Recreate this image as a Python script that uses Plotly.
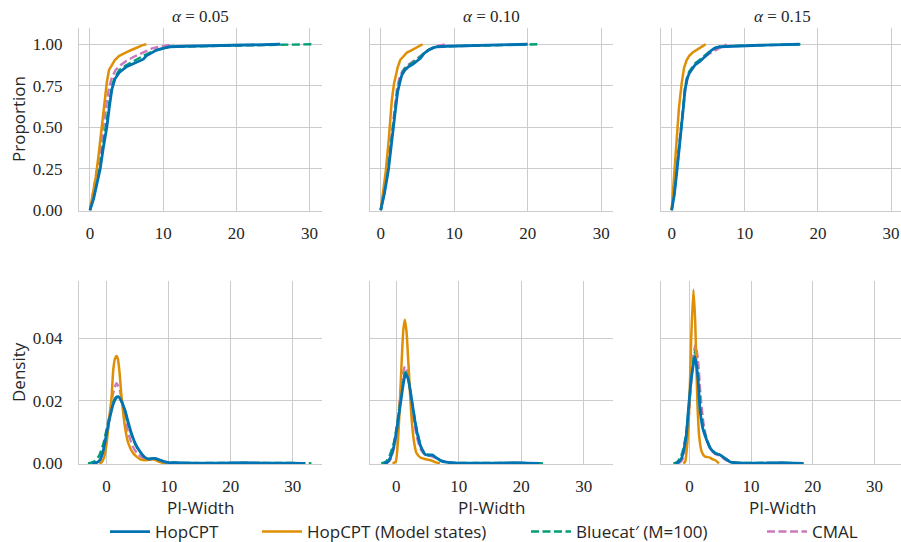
import plotly.graph_objects as go

# ---------------- data ----------------
alphas = ["0.05", "0.10", "0.15"]
series_names = ["HopCPT", "HopCPT (Model states)", "Bluecat\u2032 (M=100)", "CMAL"]

# ECDF (Proportion vs PI-Width)
ecdf_hop_x_005 = [0, 0.5, 1.0, 1.4, 1.8, 2.3, 2.7, 3.0, 3.4, 4.0, 5.0, 6.0, 6.8, 7.3, 7.7, 8.5, 9.1, 10.0, 10.9, 13, 16, 20, 23, 26]
ecdf_hop_y_005 = [0, 0.07, 0.17, 0.25, 0.37, 0.50, 0.64, 0.73, 0.79, 0.83, 0.865, 0.885, 0.90, 0.91, 0.93, 0.95, 0.965, 0.975, 0.985, 0.988, 0.99, 0.993, 0.996, 1.0]
ecdf_ms_x_005 = [0, 0.4, 0.8, 1.2, 1.6, 2.0, 2.3, 2.6, 3.0, 3.4, 4.0, 4.6, 5.3, 5.9, 6.6, 7.2, 7.7]
ecdf_ms_y_005 = [0, 0.09, 0.20, 0.34, 0.50, 0.66, 0.77, 0.845, 0.88, 0.905, 0.93, 0.945, 0.958, 0.97, 0.985, 0.995, 1.0]
ecdf_bc_x_005 = [0, 0.5, 1.0, 1.4, 1.8, 2.3, 2.7, 3.0, 3.4, 4.0, 5.0, 6.0, 6.8, 7.5, 8.5, 9.5, 11, 14, 18, 22, 26, 28, 30.3]
ecdf_bc_y_005 = [0, 0.08, 0.18, 0.27, 0.40, 0.54, 0.67, 0.75, 0.80, 0.845, 0.875, 0.90, 0.92, 0.935, 0.955, 0.97, 0.985, 0.988, 0.99, 0.994, 0.997, 0.999, 1.0]
ecdf_cm_x_005 = [0, 0.4, 0.9, 1.3, 1.7, 2.2, 2.6, 3.0, 3.5, 4.2, 5.0, 6.0, 7.0, 7.7, 8.5, 9.5, 10.5, 11.4]
ecdf_cm_y_005 = [0, 0.10, 0.22, 0.33, 0.47, 0.62, 0.74, 0.80, 0.845, 0.875, 0.90, 0.925, 0.945, 0.96, 0.975, 0.985, 0.993, 1.0]

ecdf_hop_x_010 = [0, 0.5, 1.04, 1.4, 1.73, 2.0, 2.28, 2.6, 2.87, 3.3, 3.78, 4.4, 4.9, 5.4, 5.9, 6.5, 7.1, 7.7, 9, 12, 15, 18, 20]
ecdf_hop_y_010 = [0, 0.10, 0.24, 0.37, 0.50, 0.61, 0.71, 0.77, 0.815, 0.845, 0.865, 0.88, 0.895, 0.915, 0.945, 0.965, 0.978, 0.985, 0.988, 0.991, 0.994, 0.997, 1.0]
ecdf_ms_x_010 = [0, 0.3, 0.7, 1.1, 1.5, 1.8, 2.0, 2.3, 2.64, 3.0, 3.56, 4.1, 4.7, 5.2, 5.7]
ecdf_ms_y_010 = [0, 0.09, 0.24, 0.43, 0.66, 0.76, 0.80, 0.86, 0.905, 0.925, 0.95, 0.962, 0.975, 0.99, 1.0]
ecdf_bc_x_010 = [0, 0.5, 1.0, 1.4, 1.7, 2.0, 2.3, 2.6, 2.9, 3.3, 3.8, 4.4, 4.9, 5.4, 6.0, 6.6, 7.2, 8, 10, 13, 16, 19, 21.3]
ecdf_bc_y_010 = [0, 0.11, 0.25, 0.38, 0.51, 0.62, 0.72, 0.78, 0.825, 0.855, 0.875, 0.89, 0.905, 0.925, 0.95, 0.968, 0.98, 0.986, 0.989, 0.992, 0.995, 0.998, 1.0]
ecdf_cm_x_010 = [0, 0.4, 0.9, 1.3, 1.6, 1.9, 2.2, 2.5, 2.9, 3.4, 4.0, 4.7, 5.4, 6.2, 7.0, 7.8, 8.8]
ecdf_cm_y_010 = [0, 0.10, 0.24, 0.38, 0.51, 0.63, 0.73, 0.79, 0.835, 0.865, 0.885, 0.905, 0.93, 0.955, 0.975, 0.99, 1.0]

ecdf_hop_x_015 = [0, 0.35, 0.68, 1.0, 1.37, 1.6, 1.82, 2.1, 2.4, 2.8, 3.19, 3.8, 4.33, 4.9, 5.47, 6.0, 6.6, 8, 10, 12, 14, 16, 17.5]
ecdf_hop_y_015 = [0, 0.09, 0.22, 0.35, 0.50, 0.62, 0.725, 0.79, 0.825, 0.85, 0.875, 0.895, 0.915, 0.94, 0.965, 0.978, 0.985, 0.988, 0.991, 0.994, 0.996, 0.998, 1.0]
ecdf_ms_x_015 = [0, 0.3, 0.68, 1.0, 1.37, 1.7, 2.05, 2.4, 2.87, 3.4, 3.87, 4.3, 4.65]
ecdf_ms_y_015 = [0, 0.18, 0.46, 0.62, 0.765, 0.86, 0.905, 0.93, 0.95, 0.963, 0.975, 0.99, 1.0]
ecdf_bc_x_015 = [0, 0.35, 0.68, 1.0, 1.37, 1.6, 1.82, 2.1, 2.4, 2.8, 3.2, 3.8, 4.3, 4.9, 5.5, 6.0, 6.6, 8, 10, 12, 14, 16, 17.6]
ecdf_bc_y_015 = [0, 0.10, 0.23, 0.36, 0.51, 0.63, 0.735, 0.80, 0.835, 0.86, 0.885, 0.905, 0.925, 0.948, 0.968, 0.98, 0.986, 0.989, 0.992, 0.994, 0.996, 0.998, 1.0]
ecdf_cm_x_015 = [0, 0.3, 0.65, 1.0, 1.3, 1.6, 1.9, 2.2, 2.6, 3.1, 3.7, 4.4, 5.2, 6.0, 6.8, 7.5]
ecdf_cm_y_015 = [0, 0.10, 0.24, 0.38, 0.51, 0.64, 0.74, 0.80, 0.84, 0.87, 0.895, 0.92, 0.945, 0.965, 0.985, 1.0]

# KDE (Density vs PI-Width)
kde_hop_x_005 = [-2.4, -1.6, -1.1, -0.5, 0, 0.5, 1.07, 1.5, 1.88, 2.4, 2.95, 3.5, 4.0, 4.7, 5.4, 6.0, 6.7, 7.3, 7.8, 8.5, 9.7, 11, 14, 18, 22, 26, 30, 32]
kde_hop_y_005 = [0, 0.0003, 0.001, 0.0045, 0.0096, 0.0145, 0.019, 0.0208, 0.0213, 0.0198, 0.017, 0.013, 0.0096, 0.006, 0.0037, 0.0022, 0.0014, 0.0015, 0.0016, 0.0011, 0.0003, 0.0002, 0.0001, 0.0001, 0.0002, 0.0001, 0.0001, 0]
kde_ms_x_005 = [-1.2, -0.8, -0.4, 0, 0.4, 0.8, 1.07, 1.35, 1.6, 1.8, 2.04, 2.4, 2.95, 3.5, 4.3, 5.4, 6.4, 7.5, 8.6, 9.4]
kde_ms_y_005 = [0, 0.0003, 0.002, 0.0064, 0.014, 0.0213, 0.0299, 0.0335, 0.0343, 0.0335, 0.030, 0.0213, 0.0117, 0.0064, 0.0032, 0.0013, 0.001, 0.0013, 0.0004, 0]
kde_bc_x_005 = [-3, -2, -1.2, -0.5, 0, 0.5, 1.0, 1.5, 1.9, 2.4, 3.0, 3.5, 4.0, 4.7, 5.4, 6.0, 6.7, 7.3, 7.8, 8.5, 9.7, 11, 14, 18, 22, 26, 30, 33]
kde_bc_y_005 = [0, 0.0006, 0.0025, 0.0065, 0.011, 0.0155, 0.0195, 0.0212, 0.0215, 0.0198, 0.0165, 0.0125, 0.0092, 0.0058, 0.0036, 0.0022, 0.0015, 0.0015, 0.0015, 0.001, 0.0003, 0.0002, 0.0001, 0.0001, 0.0001, 0.0001, 0.0001, 0]
kde_cm_x_005 = [-1.8, -1.0, -0.5, 0, 0.5, 1.0, 1.6, 2.1, 2.6, 3.1, 3.6, 4.2, 5.0, 5.8, 6.6, 7.4, 8.2, 9.0, 10, 11, 12]
kde_cm_y_005 = [0, 0.001, 0.0035, 0.0085, 0.015, 0.022, 0.0256, 0.0235, 0.0185, 0.013, 0.0090, 0.0055, 0.003, 0.0018, 0.0014, 0.0015, 0.0012, 0.0006, 0.0004, 0.0002, 0]

kde_hop_x_010 = [-2.0, -1.44, -0.9, -0.4, 0.1, 0.69, 1.1, 1.49, 1.9, 2.56, 3.0, 3.36, 4.0, 4.7, 5.2, 5.76, 6.4, 7.2, 8.0, 8.8, 10, 13, 16, 19, 21, 23]
kde_hop_y_010 = [0, 0.0003, 0.002, 0.0053, 0.011, 0.0192, 0.025, 0.0286, 0.027, 0.0192, 0.0135, 0.0096, 0.005, 0.0028, 0.0026, 0.0027, 0.0018, 0.0008, 0.0004, 0.0002, 0.0001, 0.0001, 0.0001, 0.0002, 0.0001, 0]
kde_ms_x_010 = [-0.6, -0.1, 0.3, 0.58, 0.9, 1.15, 1.38, 1.65, 2.0, 2.3, 2.6, 2.8, 3.2, 3.9, 4.6, 5.5, 6.2, 7.0]
kde_ms_y_010 = [0, 0.0005, 0.008, 0.0192, 0.034, 0.043, 0.0459, 0.042, 0.030, 0.0192, 0.011, 0.0075, 0.0035, 0.0018, 0.0014, 0.001, 0.0004, 0]
kde_bc_x_010 = [-2.4, -1.6, -1.0, -0.4, 0.1, 0.6, 1.0, 1.45, 1.9, 2.5, 3.0, 3.4, 4.0, 4.6, 5.2, 5.8, 6.4, 7.2, 8.0, 9.0, 11, 14, 17, 20, 23.5]
kde_bc_y_010 = [0, 0.0006, 0.0028, 0.0065, 0.012, 0.0195, 0.025, 0.0292, 0.0275, 0.0198, 0.0138, 0.0098, 0.0052, 0.0032, 0.0028, 0.0026, 0.0018, 0.0008, 0.0004, 0.0002, 0.0001, 0.0001, 0.0001, 0.0001, 0]
kde_cm_x_010 = [-1.6, -1.0, -0.4, 0.1, 0.6, 1.0, 1.4, 1.8, 2.3, 2.8, 3.3, 3.9, 4.6, 5.4, 6.2, 7.0, 8.0, 9.5]
kde_cm_y_010 = [0, 0.001, 0.0045, 0.011, 0.021, 0.028, 0.031, 0.029, 0.0215, 0.014, 0.0085, 0.0045, 0.0028, 0.0024, 0.0018, 0.001, 0.0004, 0]

kde_hop_x_015 = [-2.3, -1.8, -1.3, -0.97, -0.5, -0.16, 0.3, 0.92, 1.4, 1.73, 2.2, 2.8, 3.4, 4.2, 5.0, 5.8, 6.7, 7.5, 9, 12, 15, 17, 18.5]
kde_hop_y_015 = [0, 0.0003, 0.0015, 0.0037, 0.009, 0.017, 0.027, 0.0341, 0.027, 0.017, 0.011, 0.0075, 0.0048, 0.0032, 0.0027, 0.0015, 0.0004, 0.0002, 0.0001, 0.0001, 0.0002, 0.0001, 0]
kde_ms_x_015 = [-1.0, -0.7, -0.35, 0, 0.3, 0.65, 0.95, 1.3, 1.6, 2.0, 2.5, 3.0, 3.35, 3.8, 4.2, 4.8]
kde_ms_y_015 = [0, 0.0005, 0.006, 0.0192, 0.040, 0.0555, 0.045, 0.0192, 0.0085, 0.0037, 0.0022, 0.002, 0.0018, 0.0013, 0.001, 0]
kde_bc_x_015 = [-2.6, -2.0, -1.4, -1.0, -0.5, -0.1, 0.4, 0.9, 1.4, 1.8, 2.3, 2.8, 3.4, 4.2, 5.0, 5.8, 6.7, 7.5, 9, 12, 15, 18.5]
kde_bc_y_015 = [0, 0.0004, 0.002, 0.0045, 0.010, 0.018, 0.029, 0.0357, 0.028, 0.0175, 0.0112, 0.0078, 0.005, 0.0033, 0.0027, 0.0016, 0.0005, 0.0002, 0.0001, 0.0002, 0.0001, 0]
kde_cm_x_015 = [-1.8, -1.2, -0.6, -0.2, 0.3, 0.7, 1.0, 1.4, 1.8, 2.3, 2.8, 3.4, 4.2, 5.0, 5.8, 6.7, 8.0]
kde_cm_y_015 = [0, 0.001, 0.005, 0.012, 0.026, 0.035, 0.0379, 0.033, 0.022, 0.0125, 0.0078, 0.0048, 0.003, 0.0024, 0.0012, 0.0005, 0]

x_ticks = [0, 10, 20, 30]
ecdf_y_ticks = [0, 0.25, 0.5, 0.75, 1.0]
kde_y_ticks = [0, 0.02, 0.04]

# ---------------- styling ----------------
W, H = 901, 550          # the page is captured 550 px tall and shown at 542
REF_H = 542
COLORS = ["#0173b2", "#de8f05", "#029e73", "#cc78bc"]
DASHES = ["solid", "solid", "8px,3.5px", "8px,3.5px"]
WIDTHS = [2.8, 2.5, 2.4, 2.4]
GRID = "#cccccc"
TXT = "#262626"
SERIF = "'Liberation Serif', 'DejaVu Serif', serif"
SANS = "'Open Sans', sans-serif"

ecdf = [
    [(ecdf_hop_x_005, ecdf_hop_y_005), (ecdf_ms_x_005, ecdf_ms_y_005), (ecdf_bc_x_005, ecdf_bc_y_005), (ecdf_cm_x_005, ecdf_cm_y_005)],
    [(ecdf_hop_x_010, ecdf_hop_y_010), (ecdf_ms_x_010, ecdf_ms_y_010), (ecdf_bc_x_010, ecdf_bc_y_010), (ecdf_cm_x_010, ecdf_cm_y_010)],
    [(ecdf_hop_x_015, ecdf_hop_y_015), (ecdf_ms_x_015, ecdf_ms_y_015), (ecdf_bc_x_015, ecdf_bc_y_015), (ecdf_cm_x_015, ecdf_cm_y_015)],
]
kde = [
    [(kde_hop_x_005, kde_hop_y_005), (kde_ms_x_005, kde_ms_y_005), (kde_bc_x_005, kde_bc_y_005), (kde_cm_x_005, kde_cm_y_005)],
    [(kde_hop_x_010, kde_hop_y_010), (kde_ms_x_010, kde_ms_y_010), (kde_bc_x_010, kde_bc_y_010), (kde_cm_x_010, kde_cm_y_010)],
    [(kde_hop_x_015, kde_hop_y_015), (kde_ms_x_015, kde_ms_y_015), (kde_bc_x_015, kde_bc_y_015), (kde_cm_x_015, kde_cm_y_015)],
]

# panel pixel boxes (left, right)
col_px = [(79, 322), (370, 613), (661, 901)]
top_px = (28, 211)
bot_px = (281, 464)
top_xrange = [[-1.5, 31.7], [-1.46, 31.6], [-1.46, 31.35]]
bot_xrange = [[-4.45, 34.7], [-4.2, 34.7], [-4.6, 34.3]]

fig = go.Figure()
draw_order = [3, 2, 1, 0]  # HopCPT on top
legend_ids = ["legend", "legend2", "legend3", "legend4"]

for c in range(3):
    for s in draw_order:
        xs, ys = ecdf[c][s]
        fig.add_trace(go.Scatter(
            x=xs, y=ys, mode="lines", name=series_names[s],
            line=dict(color=COLORS[s], width=WIDTHS[s], dash=DASHES[s]),
            xaxis="x" if c == 0 else f"x{c+1}", yaxis="y" if c == 0 else f"y{c+1}",
            showlegend=(c == 0), legend=legend_ids[s], hoverinfo="skip"))
    for s in draw_order:
        xs, ys = kde[c][s]
        fig.add_trace(go.Scatter(
            x=xs, y=ys, mode="lines", name=series_names[s],
            line=dict(color=COLORS[s], width=WIDTHS[s], dash=DASHES[s], shape="spline", smoothing=0.6),
            xaxis=f"x{c+4}", yaxis=f"y{c+4}", showlegend=False, hoverinfo="skip"))

layout = dict(
    width=W, height=H, margin=dict(l=0, r=0, t=0, b=0),
    paper_bgcolor="white", plot_bgcolor="white",
    font=dict(family=SERIF, size=17, color=TXT),
)

def px2fx(p):
    return p / W

def px2fy(p):
    return 1 - p / REF_H

for c in range(3):
    for row in range(2):
        idx = c + 1 + 3 * row
        xk = "xaxis" if idx == 1 else f"xaxis{idx}"
        yk = "yaxis" if idx == 1 else f"yaxis{idx}"
        xa = "x" if idx == 1 else f"x{idx}"
        ya = "y" if idx == 1 else f"y{idx}"
        vp = top_px if row == 0 else bot_px
        layout[xk] = dict(
            domain=[px2fx(col_px[c][0]), min(1.0, px2fx(col_px[c][1]))],
            range=top_xrange[c] if row == 0 else bot_xrange[c],
            anchor=ya, tickvals=x_ticks, ticks="", showgrid=True, gridcolor=GRID, gridwidth=1.2,
            showline=True, linecolor=GRID, linewidth=1.3, zeroline=False,
            tickfont=dict(family=SERIF, size=17, color=TXT), ticklabelstandoff=6,
        )
        layout[yk] = dict(
            domain=[px2fy(vp[1]), px2fy(vp[0])],
            range=[-0.005, 1.098] if row == 0 else [-0.0002, 0.0583],
            anchor=xa, tickvals=ecdf_y_ticks if row == 0 else kde_y_ticks, tickformat=".2f",
            ticks="", showgrid=True, gridcolor=GRID, gridwidth=1.2,
            showline=True, linecolor=GRID, linewidth=1.3, zeroline=False,
            showticklabels=(c == 0),
            tickfont=dict(family=SERIF, size=17, color=TXT), ticklabelstandoff=12,
        )

annotations = []
for c in range(3):
    cx = (col_px[c][0] + col_px[c][1]) / 2
    if c == 2:
        cx = (661 + 904) / 2
    annotations.append(dict(
        x=px2fx(cx), y=px2fy(16), xref="paper", yref="paper", showarrow=False,
        text=f"<i>\u03b1</i> = {alphas[c]}", font=dict(family=SERIF, size=17, color=TXT),
        xanchor="center", yanchor="middle"))
    annotations.append(dict(
        x=px2fx(cx), y=px2fy(507), xref="paper", yref="paper", showarrow=False,
        text="PI-Width", font=dict(family=SANS, size=17, color=TXT),
        xanchor="center", yanchor="middle"))
annotations.append(dict(x=px2fx(18), y=px2fy(119), xref="paper", yref="paper", showarrow=False,
                        text="Proportion", textangle=-90, font=dict(family=SANS, size=17, color=TXT),
                        xanchor="center", yanchor="middle"))
annotations.append(dict(x=px2fx(18), y=px2fy(372), xref="paper", yref="paper", showarrow=False,
                        text="Density", textangle=-90, font=dict(family=SANS, size=17, color=TXT),
                        xanchor="center", yanchor="middle"))
layout["annotations"] = annotations

legend_starts = [105, 257, 526, 762]
for i, lid in enumerate(legend_ids):
    layout[lid] = dict(
        x=px2fx(legend_starts[i]), y=px2fy(532), xanchor="left", yanchor="middle",
        orientation="h", bgcolor="rgba(0,0,0,0)", borderwidth=0,
        font=dict(family=SANS, size=17, color=TXT), itemwidth=40,
    )

fig.update_layout(**layout)
page_fix = (
    "var b=document.body;b.style.margin='0';b.style.padding='0';window.scrollTo(0,0);"
)
fig.write_html("out.html", config={"displayModeBar": False}, post_script=page_fix)
